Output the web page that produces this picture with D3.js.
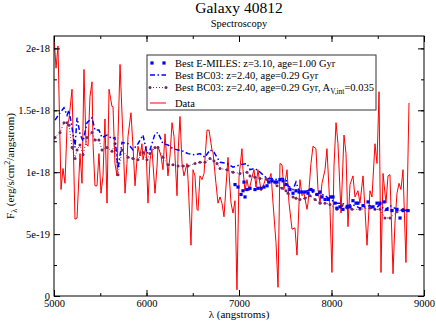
<!DOCTYPE html>
<meta charset="utf-8">
<script src="https://cdn.jsdelivr.net/npm/d3@7/dist/d3.min.js"></script>
<body style="margin:0;background:#fff">
<svg width="436" height="322"></svg>
</body>
<script>
    // observed spectrum (angstrom, flux in 1e-18 erg/s/cm2/A)
    var dataWave = [5000,5022,5043,5076,5097,5119,5141,5162,5195,5227,5249,5281,5303,5324,5346,5368,5389,5411,5422,5443,
        5465,5486,5508,5530,5551,5573,5595,5627,5638,5659,5681,5692,5714,5746,5768,5789,5800,5832,5854,5876,
        5908,5930,5951,5962,5995,6016,6038,6059,6092,6114,6124,6157,6178,6200,6232,6254,6276,6297,6330,6341,
        6362,6384,6405,6438,6449,6481,6503,6524,6546,6557,6578,6600,6622,6654,6676,6708,6719,6751,6773,6795,
        6816,6838,6859,6881,6914,6935,6957,6978,7000,7032,7043,7065,7086,7108,7141,7162,7184,7205,7238,7259,
        7292,7314,7346,7368,7400,7422,7443,7465,7486,7519,7541,7573,7605,7627,7659,7681,7703,7735,7746,7778,
        7800,7832,7854,7876,7897,7930,7951,7984,8005,8027,8049,8070,8103,8135,8157,8178,8200,8232,8254,8286,
        8308,8341,8362,8384,8416,8438,8470,8492,8514,8535,8557,8589,8611,8632,8665,8686,8708,8730,8751,8773,
        8805,8838];
    var dataFlux = [2.10,1.84,2.02,0.86,1.03,0.91,1.37,1.43,1.67,0.62,0.63,1.15,0.91,1.83,1.23,1.21,1.61,1.73,1.23,0.89,
        0.89,1.15,0.83,0.97,1.43,0.75,1.67,1.53,1.53,1.07,0.97,1.29,1.87,1.27,0.83,1.07,1.29,1.48,1.21,0.89,
        1.21,1.13,1.23,1.10,1.21,0.75,1.10,1.19,0.83,1.05,1.21,1.13,1.02,1.31,0.97,1.13,1.40,1.29,0.81,1.15,
        1.45,1.07,0.97,1.07,0.94,0.41,1.02,0.97,0.70,0.69,0.97,0.94,0.99,1.34,1.34,1.18,1.16,0.91,0.75,0.80,
        0.75,0.64,0.88,1.12,0.75,0.67,0.77,0.05,0.96,1.19,1.02,0.85,0.94,0.85,0.96,1.02,0.88,1.02,0.85,0.88,
        0.96,0.91,0.99,0.75,0.43,0.07,1.07,1.06,0.86,1.02,0.75,0.54,0.55,0.33,0.94,0.81,0.83,0.70,0.75,1.07,
        1.21,1.19,0.86,0.75,0.91,1.02,1.19,0.70,0.19,1.05,1.40,1.23,0.67,1.30,1.15,0.56,0.90,0.97,0.80,0.85,
        0.75,0.97,0.70,0.41,0.85,0.80,1.23,1.07,1.65,0.19,0.99,0.75,0.97,0.98,0.18,0.59,0.83,0.91,0.86,1.02,
        0.27,1.56];

    // BC03 model grid
    var modelWave = [5011,5065,5108,5141,5162,5195,5227,5249,5281,5314,5357,5411,5443,5486,5519,5573,5627,5659,5692,5735,
        5800,5854,5908,5962,6005,6038,6092,6124,6178,6232,6286,6341,6395,6449,6524,6578,6632,6686,6730,6762,
        6795,6870,6935,7011,7086,7119,7173,7227,7303,7357,7411,7465,7508,7530,7584,7616,7659,7714,7768,7822,
        7876,7930,7984,8059,8114,8168,8222,8308,8416,8470,8524,8578,8632,8708,8773,8827];
    var bc03Flux = [1.42,1.48,1.52,1.46,1.50,1.36,1.20,1.44,1.31,1.25,1.40,1.44,1.34,1.34,1.28,1.30,1.27,1.28,1.03,1.24,
        1.23,1.18,1.23,1.30,1.15,1.18,1.31,1.32,1.23,1.22,1.19,1.18,1.17,1.15,1.14,1.15,1.12,1.18,1.16,1.12,
        1.08,1.07,1.04,1.06,1.07,1.02,1.03,1.00,0.95,0.95,0.94,0.95,0.94,0.89,0.86,0.92,0.83,0.84,0.86,0.82,
        0.83,0.81,0.78,0.75,0.75,0.73,0.74,0.71,0.73,0.70,0.74,0.69,0.73,0.70,0.69,0.69];
    var bc03DustFlux = [1.28,1.32,1.40,1.40,1.38,1.20,1.11,1.18,1.22,1.14,1.28,1.32,1.26,1.26,1.18,1.20,1.17,1.23,0.98,1.18,
        1.12,1.11,1.10,1.16,1.10,1.15,1.20,1.20,1.12,1.06,1.06,1.05,1.05,1.05,1.07,1.08,1.08,1.11,1.09,1.07,
        1.03,1.02,1.00,0.99,1.00,0.97,0.96,0.95,0.94,0.93,0.89,0.87,0.85,0.83,0.80,0.79,0.78,0.79,0.81,0.78,
        0.75,0.75,0.74,0.70,0.73,0.71,0.70,0.70,0.71,0.70,0.70,0.63,0.63,0.68,0.70,0.69];

    // E-MILES model
    var emilesWave = [6957,6989,7022,7043,7054,7065,7086,7119,7173,7205,7238,7270,7303,7324,7357,7389,7411,7443,7476,7508,
        7551,7584,7616,7649,7681,7714,7746,7778,7800,7843,7876,7897,7930,7962,7995,8016,8038,8059,8092,8124,
        8168,8200,8232,8265,8286,8341,8395,8449,8492,8524,8568,8600,8654,8708,8741,8773,8827];
    var emilesFlux = [0.90,0.88,0.82,0.85,0.92,0.80,0.86,0.87,0.86,0.87,0.87,0.88,0.89,0.92,0.93,0.92,0.92,0.94,0.93,0.90,
        0.86,0.83,0.85,0.84,0.84,0.84,0.83,0.86,0.85,0.82,0.84,0.80,0.78,0.78,0.80,0.80,0.75,0.71,0.72,0.70,
        0.72,0.72,0.77,0.75,0.75,0.73,0.76,0.72,0.75,0.75,0.76,0.70,0.69,0.70,0.63,0.69,0.69];

    var xTicks = [5000, 6000, 7000, 8000, 9000];
    var xTickLabels = ["5000", "6000", "7000", "8000", "9000"];
    var yTicks = [0, 0.5, 1, 1.5, 2];
    var yTickLabels = ["0", "5e-19", "1e-18", "1.5e-18", "2e-18"];
    var legendLabels = ["Best E-MILES: z=3.10, age=1.00 Gyr", "Best BC03: z=2.40, age=0.29 Gyr",
        "Best BC03: z=2.40, age=0.29 Gyr, A", "Data"];

    var clrData = "#ff0000",
        clrBc03 = "#0000ff",
        clrDust = "#742864",
        font = "Liberation Serif, Times New Roman, Times, DejaVu Serif, serif";

    var svg = d3.select('svg');
    var x = d3.scaleLinear().domain([5000, 9000]).range([54, 424]);
    var y = d3.scaleLinear().domain([0, 2.1]).range([296, 36]);

    function txt(sel, size) {
        return sel.attr('font-family', font).style('font-family', font).style('font-size', size).attr('fill', '#000');
    }

    svg.append('clipPath').attr('id', 'clip')
        .append('rect').attr('x', 54).attr('y', 36).attr('width', 370).attr('height', 260);

    var plot = svg.append('g').attr('clip-path', 'url(#clip)');

    var line = d3.line().x(function (d) { return x(d[0]); }).y(function (d) { return y(d[1]); });

    // data
    plot.append('path').datum(d3.zip(dataWave, dataFlux))
        .attr('d', line).attr('fill', 'none').attr('stroke', clrData).attr('stroke-width', 1);

    // BC03 dust : dotted + circles
    var dust = d3.zip(modelWave, bc03DustFlux);
    plot.append('path').datum(dust)
        .attr('d', line).attr('fill', 'none').attr('stroke', clrDust)
        .attr('stroke-width', 1).attr('stroke-dasharray', '1,2');
    plot.selectAll('circle.dust').data(dust).enter().append('circle')
        .attr('class', 'dust')
        .attr('cx', function (d) { return x(d[0]); }).attr('cy', function (d) { return y(d[1]); })
        .attr('r', 1.5).attr('fill', clrDust);

    // BC03 : dash-dot
    plot.append('path').datum(d3.zip(modelWave, bc03Flux))
        .attr('d', line).attr('fill', 'none').attr('stroke', clrBc03)
        .attr('stroke-width', 1.5).attr('stroke-dasharray', '5,2.5,1.5,2.5');

    // E-MILES : squares
    plot.selectAll('rect.em').data(d3.zip(emilesWave, emilesFlux)).enter().append('rect')
        .attr('class', 'em')
        .attr('x', function (d) { return x(d[0]) - 1.6; }).attr('y', function (d) { return y(d[1]) - 1.6; })
        .attr('width', 3.2).attr('height', 3.2).attr('fill', clrBc03);

    // axes
    var minorX = d3.range(5000, 9001, 500), minorY = d3.range(0, 2.1, 0.25);
    function styleAxis(g) {
        g.select('.domain').remove();
        g.selectAll('line').attr('stroke', '#000');
        txt(g.selectAll('text'), '10.5px');
    }
    svg.append('g').attr('transform', 'translate(0,296)')
        .call(d3.axisBottom(x).tickValues(minorX).tickSize(-3).tickFormat('')).call(styleAxis);
    svg.append('g').attr('transform', 'translate(0,296)')
        .call(d3.axisBottom(x).tickValues(xTicks).tickSize(-6).tickPadding(3.5)
            .tickFormat(function (d, i) { return xTickLabels[i]; })).call(styleAxis);
    svg.append('g').attr('transform', 'translate(0,36)')
        .call(d3.axisTop(x).tickValues(minorX).tickSize(-3).tickFormat('')).call(styleAxis);
    svg.append('g').attr('transform', 'translate(0,36)')
        .call(d3.axisTop(x).tickValues(xTicks).tickSize(-6).tickFormat('')).call(styleAxis);
    svg.append('g').attr('transform', 'translate(54,0)')
        .call(d3.axisLeft(y).tickValues(minorY).tickSize(-3).tickFormat('')).call(styleAxis);
    svg.append('g').attr('transform', 'translate(54,0)')
        .call(d3.axisLeft(y).tickValues(yTicks).tickSize(-6).tickPadding(4)
            .tickFormat(function (d, i) { return yTickLabels[i]; })).call(styleAxis);
    svg.append('g').attr('transform', 'translate(424,0)')
        .call(d3.axisRight(y).tickValues(minorY).tickSize(-3).tickFormat('')).call(styleAxis);
    svg.append('g').attr('transform', 'translate(424,0)')
        .call(d3.axisRight(y).tickValues(yTicks).tickSize(-6).tickFormat('')).call(styleAxis);

    svg.append('rect').attr('x', 54).attr('y', 36).attr('width', 370).attr('height', 260)
        .attr('fill', 'none').attr('stroke', '#000').attr('stroke-width', 1);

    // titles
    txt(svg.append('text'), '15.5px').attr('x', 239).attr('y', 13).attr('text-anchor', 'middle')
        .text('Galaxy 40812');
    txt(svg.append('text'), '10.5px').attr('x', 239).attr('y', 26.5).attr('text-anchor', 'middle')
        .text('Spectroscopy');
    txt(svg.append('text'), '11px').attr('x', 239).attr('y', 318).attr('text-anchor', 'middle')
        .text('λ (angstroms)');

    var yl = txt(svg.append('text'), '11px').attr('transform', 'translate(14,166) rotate(-90)')
        .attr('text-anchor', 'middle');
    yl.append('tspan').text('F');
    yl.append('tspan').attr('dy', 3).style('font-size', '8px').text('λ');
    yl.append('tspan').attr('dy', -3).text(' (erg/s/cm');
    yl.append('tspan').attr('dy', -4).style('font-size', '8px').text('2');
    yl.append('tspan').attr('dy', 4).text('/angstrom)');

    // legend
    var lg = svg.append('g');
    lg.append('rect').attr('x', 147).attr('y', 55).attr('width', 229).attr('height', 55)
        .attr('fill', '#fff').attr('stroke', '#333').attr('stroke-width', 1);
    var rowY = [63, 75, 87.5, 103], lx0 = 150, lx1 = 166, tx = 175;

    lg.selectAll('rect.lem').data([lx0 + 2, lx1 - 2]).enter().append('rect')
        .attr('x', function (d) { return d - 1.6; }).attr('y', rowY[0] - 1.6)
        .attr('width', 3.2).attr('height', 3.2).attr('fill', clrBc03);
    lg.append('line').attr('x1', lx0).attr('x2', lx1).attr('y1', rowY[1]).attr('y2', rowY[1])
        .attr('stroke', clrBc03).attr('stroke-width', 1.5).attr('stroke-dasharray', '5,2.5,1.5,2.5');
    lg.append('line').attr('x1', lx0).attr('x2', lx1).attr('y1', rowY[2]).attr('y2', rowY[2])
        .attr('stroke', clrDust).attr('stroke-width', 1).attr('stroke-dasharray', '1,2');
    lg.selectAll('circle').data([lx0, lx1]).enter().append('circle')
        .attr('cx', function (d) { return d; }).attr('cy', rowY[2]).attr('r', 1.5).attr('fill', clrDust);
    lg.append('line').attr('x1', lx0).attr('x2', lx1).attr('y1', rowY[3]).attr('y2', rowY[3])
        .attr('stroke', clrData).attr('stroke-width', 1);

    legendLabels.forEach(function (s, i) {
        var t = txt(lg.append('text'), '10.5px').attr('x', tx).attr('y', rowY[i]).attr('dy', '0.35em')
            .text(s);
        if (i == 2) {
            t.append('tspan').attr('dy', 3).style('font-size', '7.5px').text('V,int');
            t.append('tspan').attr('dy', -3).text('=0.035');
        }
    });
</script>
